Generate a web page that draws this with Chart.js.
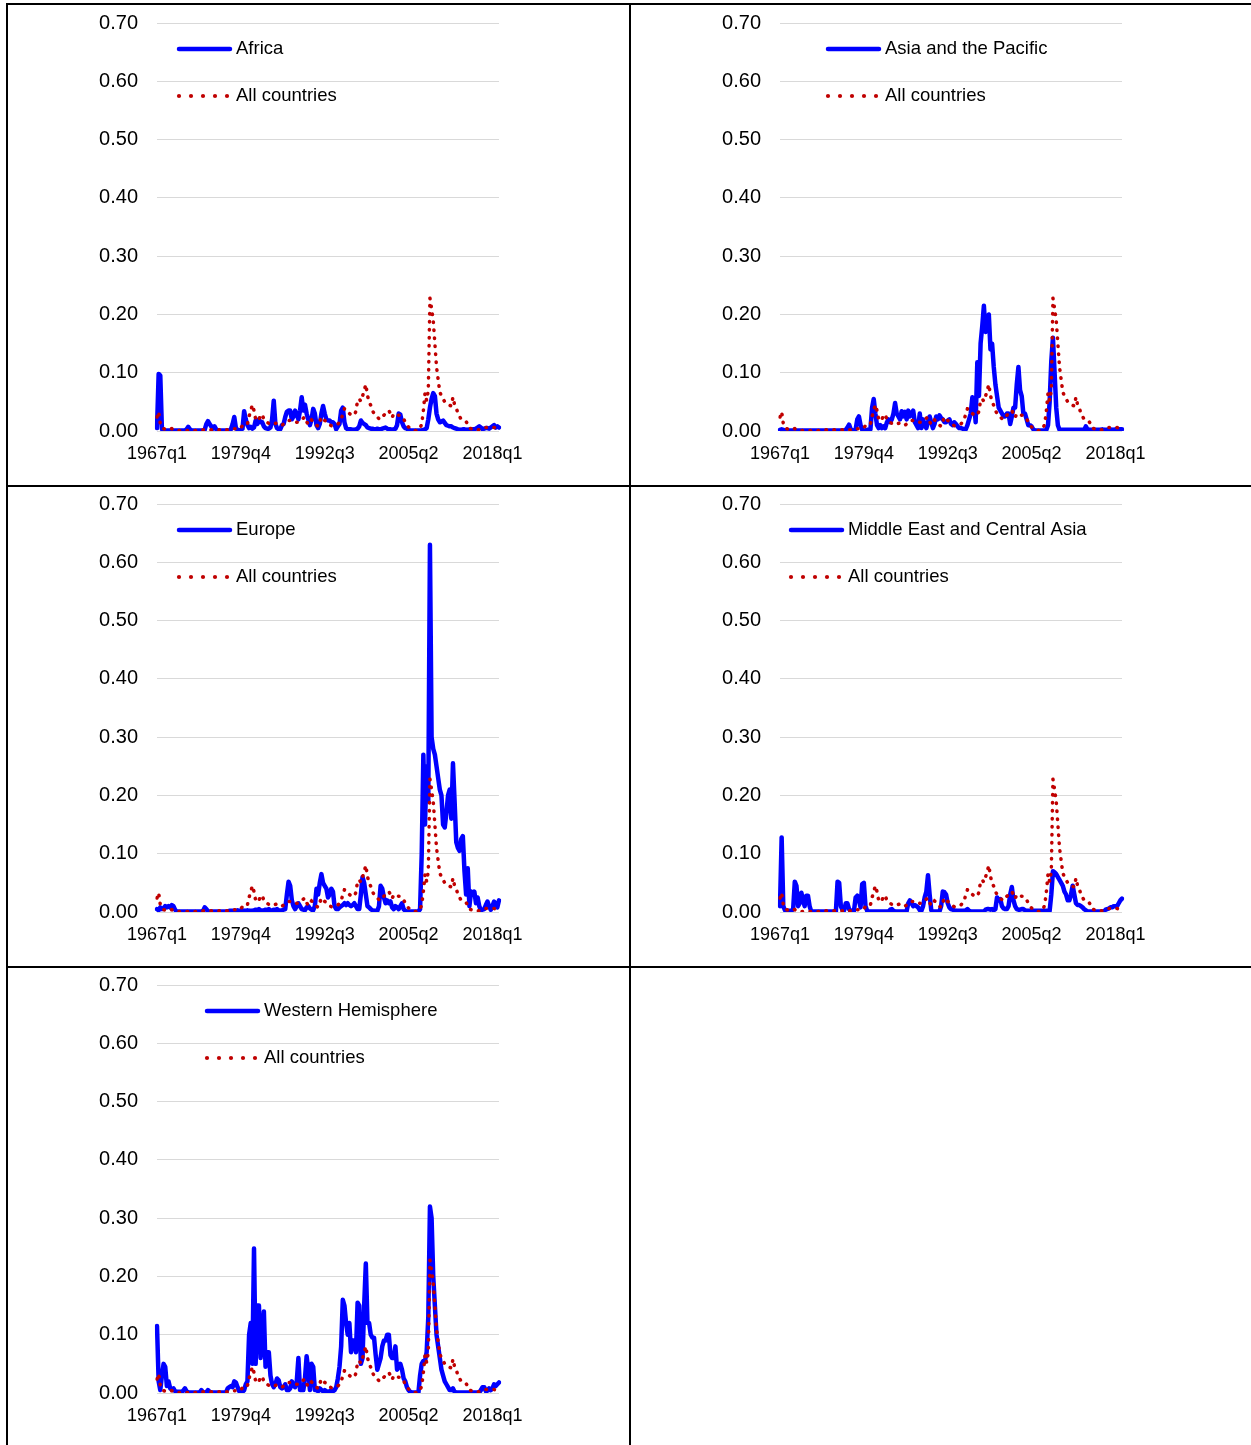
<!DOCTYPE html>
<html>
<head>
<meta charset="utf-8">
<title>Regional series against all countries, 1967q1–2019q1</title>
<script src="https://cdn.jsdelivr.net/npm/chart.js@4.4.1/dist/chart.umd.min.js"></script>
<style>
  html, body { margin: 0; padding: 0; background: #fff; }
  body { position: relative; width: 1251px; height: 1445px; overflow: hidden; }
  .rule { position: absolute; background: #000; }
  .panel { position: absolute; }
  .panel canvas { display: block; }
</style>
</head>
<body>
<!-- table rules -->
<div class="rule" style="left:6px;top:3px;width:1245px;height:2px"></div>
<div class="rule" style="left:6px;top:485px;width:1245px;height:2px"></div>
<div class="rule" style="left:6px;top:966px;width:1245px;height:2px"></div>
<div class="rule" style="left:6px;top:3px;width:2px;height:1442px"></div>
<div class="rule" style="left:629px;top:3px;width:2px;height:1442px"></div>

<div class="panel" style="left:8px;top:5px"><canvas id="c0" width="621" height="480"></canvas></div>
<div class="panel" style="left:631px;top:5px"><canvas id="c1" width="621" height="480"></canvas></div>
<div class="panel" style="left:8px;top:486px"><canvas id="c2" width="621" height="480"></canvas></div>
<div class="panel" style="left:631px;top:486px"><canvas id="c3" width="621" height="480"></canvas></div>
<div class="panel" style="left:8px;top:967px"><canvas id="c4" width="621" height="480"></canvas></div>

<script>
// Quarterly categories, 1967q1 .. 2019q1
const quarters = [];
for (let y = 1967; y <= 2019; y++) {
  for (let q = 1; q <= 4; q++) {
    if (y === 2019 && q > 1) break;
    quarters.push(y + 'q' + q);
  }
}
const tickLabels = ['1967q1', '1979q4', '1992q3', '2005q2', '2018q1'];

const comparisonName = 'All countries';
const regionNames = ['Africa', 'Asia and the Pacific', 'Europe', 'Middle East and Central Asia', 'Western Hemisphere'];

// one row = four years (16 quarters); last row ends with 2019q1
const allCountries = [
  0.024,0.033,0.013,0.006, 0.004,0.003,0.004,0.003, 0.003,0.004,0.002,0.002, 0.002,0.001,0.001,0.001,
  0.001,0.001,0.001,0.001, 0.001,0.001,0.001,0.001, 0.001,0.001,0.002,0.002, 0.002,0.002,0.002,0.002,
  0.002,0.002,0.002,0.002, 0.002,0.002,0.002,0.001, 0.001,0.001,0.002,0.002, 0.003,0.003,0.003,0.004,
  0.004,0.005,0.004,0.006, 0.009,0.008,0.009,0.012, 0.025,0.035,0.045,0.035, 0.020,0.017,0.020,0.028,
  0.028,0.020,0.016,0.015, 0.013,0.012,0.011,0.012, 0.013,0.014,0.013,0.011, 0.010,0.012,0.015,0.017,
  0.018,0.018,0.018,0.018, 0.016,0.015,0.015,0.018, 0.020,0.022,0.024,0.016, 0.011,0.015,0.019,0.017,
  0.013,0.010,0.008,0.016, 0.024,0.021,0.018,0.017, 0.014,0.011,0.009,0.009, 0.010,0.011,0.012,0.015,
  0.019,0.030,0.038,0.038, 0.034,0.030,0.028,0.027, 0.027,0.034,0.053,0.055, 0.051,0.060,0.069,0.080,
  0.061,0.050,0.044,0.035, 0.030,0.028,0.024,0.021, 0.020,0.023,0.027,0.030, 0.033,0.035,0.030,0.023,
  0.030,0.029,0.028,0.027, 0.027,0.024,0.021,0.015, 0.010,0.007,0.005,0.003, 0.002,0.001,0.000,0.002,
  0.005,0.012,0.035,0.065, 0.052,0.070,0.228,0.210, 0.190,0.150,0.110,0.088, 0.067,0.060,0.055,0.050,
  0.047,0.045,0.044,0.043, 0.058,0.045,0.040,0.030, 0.025,0.020,0.019,0.018, 0.016,0.012,0.005,0.004,
  0.003,0.002,0.002,0.002, 0.002,0.003,0.004,0.005, 0.006,0.006,0.006,0.006, 0.006,0.006,0.005,0.006,
  0.006
];

const africa = [
  0.005,0.098,0.095,0.003, 0.002,0.001,0.001,0.001, 0.001,0.001,0.001,0.001, 0.001,0.001,0.001,0.001,
  0.001,0.001,0.003,0.007, 0.003,0.001,0.001,0.001, 0.001,0.001,0.001,0.001, 0.001,0.002,0.012,0.017,
  0.012,0.008,0.004,0.008, 0.003,0.001,0.001,0.001, 0.001,0.001,0.001,0.001, 0.001,0.003,0.012,0.024,
  0.005,0.002,0.001,0.002, 0.004,0.034,0.020,0.010, 0.005,0.007,0.004,0.006, 0.018,0.012,0.020,0.015,
  0.015,0.008,0.005,0.004, 0.004,0.006,0.020,0.052, 0.012,0.005,0.003,0.003, 0.010,0.012,0.024,0.033,
  0.035,0.035,0.020,0.025, 0.035,0.028,0.020,0.035, 0.058,0.035,0.045,0.030, 0.020,0.010,0.020,0.038,
  0.030,0.010,0.005,0.012, 0.030,0.043,0.030,0.020, 0.018,0.018,0.015,0.015, 0.012,0.003,0.008,0.012,
  0.035,0.040,0.015,0.005, 0.003,0.003,0.003,0.002, 0.002,0.003,0.004,0.008, 0.018,0.014,0.012,0.010,
  0.006,0.005,0.004,0.004, 0.003,0.003,0.004,0.003, 0.003,0.004,0.005,0.006, 0.004,0.003,0.003,0.002,
  0.003,0.004,0.010,0.030, 0.028,0.015,0.008,0.005, 0.004,0.002,0.001,0.001, 0.001,0.001,0.001,0.001,
  0.001,0.001,0.002,0.003, 0.005,0.020,0.040,0.055, 0.065,0.060,0.030,0.020, 0.015,0.016,0.018,0.014,
  0.010,0.009,0.008,0.008, 0.006,0.005,0.004,0.003, 0.002,0.002,0.003,0.003, 0.002,0.002,0.003,0.002,
  0.003,0.003,0.004,0.006, 0.008,0.006,0.003,0.004, 0.005,0.005,0.004,0.006, 0.008,0.010,0.006,0.008,
  0.006
];

const asiaPacific = [
  0.002,0.003,0.002,0.001, 0.001,0.001,0.001,0.001, 0.001,0.001,0.001,0.001, 0.001,0.001,0.001,0.001,
  0.001,0.001,0.001,0.001, 0.001,0.001,0.001,0.001, 0.001,0.001,0.001,0.001, 0.001,0.001,0.001,0.001,
  0.001,0.001,0.001,0.001, 0.001,0.001,0.001,0.001, 0.002,0.006,0.011,0.003, 0.001,0.001,0.003,0.020,
  0.025,0.010,0.002,0.001, 0.001,0.002,0.002,0.003, 0.040,0.055,0.030,0.010, 0.005,0.010,0.005,0.008,
  0.005,0.015,0.020,0.015, 0.020,0.030,0.048,0.030, 0.025,0.020,0.034,0.025, 0.033,0.020,0.035,0.025,
  0.030,0.035,0.015,0.010, 0.005,0.030,0.005,0.020, 0.010,0.005,0.015,0.025, 0.015,0.005,0.012,0.025,
  0.020,0.027,0.022,0.020, 0.015,0.015,0.018,0.020, 0.012,0.010,0.015,0.012, 0.008,0.005,0.005,0.004,
  0.003,0.003,0.010,0.020, 0.030,0.058,0.050,0.015, 0.118,0.060,0.150,0.180, 0.215,0.170,0.190,0.200,
  0.140,0.150,0.110,0.080, 0.060,0.040,0.035,0.030, 0.025,0.025,0.030,0.030, 0.012,0.025,0.040,0.040,
  0.080,0.110,0.070,0.060, 0.030,0.030,0.020,0.010, 0.010,0.008,0.003,0.001, 0.001,0.001,0.001,0.001,
  0.001,0.001,0.002,0.010, 0.050,0.120,0.160,0.100, 0.040,0.010,0.002,0.002, 0.002,0.002,0.002,0.002,
  0.002,0.002,0.002,0.002, 0.002,0.002,0.002,0.002, 0.002,0.002,0.008,0.003, 0.002,0.002,0.002,0.002,
  0.002,0.002,0.002,0.002, 0.003,0.002,0.002,0.002, 0.003,0.003,0.002,0.002, 0.003,0.003,0.003,0.003,
  0.003
];

const europe = [
  0.005,0.003,0.008,0.005, 0.006,0.010,0.008,0.010, 0.008,0.012,0.010,0.004, 0.001,0.001,0.001,0.001,
  0.001,0.001,0.001,0.001, 0.001,0.001,0.001,0.001, 0.001,0.001,0.001,0.001, 0.002,0.008,0.005,0.001,
  0.001,0.001,0.001,0.001, 0.001,0.001,0.001,0.001, 0.001,0.001,0.001,0.001, 0.002,0.002,0.002,0.002,
  0.002,0.003,0.002,0.002, 0.003,0.002,0.002,0.003, 0.002,0.002,0.002,0.003, 0.004,0.003,0.005,0.003,
  0.002,0.003,0.004,0.003, 0.005,0.003,0.002,0.004, 0.003,0.005,0.003,0.002, 0.003,0.004,0.005,0.030,
  0.052,0.045,0.020,0.010, 0.005,0.010,0.015,0.010, 0.005,0.004,0.003,0.008, 0.010,0.006,0.004,0.003,
  0.010,0.040,0.030,0.050, 0.065,0.050,0.045,0.040, 0.025,0.030,0.040,0.035, 0.010,0.005,0.005,0.008,
  0.010,0.012,0.015,0.012, 0.015,0.012,0.010,0.012, 0.015,0.010,0.005,0.005, 0.030,0.060,0.050,0.030,
  0.010,0.008,0.005,0.003, 0.002,0.002,0.002,0.010, 0.045,0.040,0.025,0.015, 0.020,0.015,0.018,0.008,
  0.005,0.010,0.008,0.005, 0.010,0.015,0.005,0.002, 0.001,0.001,0.001,0.001, 0.001,0.001,0.001,0.001,
  0.005,0.100,0.270,0.150, 0.250,0.190,0.630,0.300, 0.280,0.270,0.250,0.230, 0.210,0.200,0.150,0.145,
  0.170,0.200,0.210,0.160, 0.255,0.190,0.120,0.110, 0.105,0.125,0.130,0.070, 0.030,0.075,0.010,0.035,
  0.030,0.035,0.015,0.025, 0.010,0.003,0.004,0.005, 0.012,0.018,0.010,0.004, 0.010,0.018,0.012,0.008,
  0.020
];

const middleEastCentralAsia = [
  0.010,0.128,0.010,0.003, 0.002,0.002,0.002,0.002, 0.005,0.052,0.045,0.010, 0.015,0.033,0.020,0.010,
  0.028,0.028,0.010,0.001, 0.001,0.001,0.001,0.001, 0.001,0.001,0.001,0.001, 0.001,0.001,0.001,0.001,
  0.001,0.001,0.001,0.052, 0.050,0.010,0.004,0.003, 0.015,0.015,0.005,0.002, 0.002,0.002,0.025,0.028,
  0.020,0.008,0.048,0.050, 0.010,0.002,0.001,0.001, 0.001,0.001,0.001,0.001, 0.001,0.001,0.001,0.001,
  0.001,0.001,0.001,0.004, 0.005,0.002,0.001,0.001, 0.001,0.001,0.001,0.001, 0.001,0.001,0.015,0.020,
  0.015,0.010,0.012,0.010, 0.008,0.003,0.002,0.010, 0.025,0.035,0.063,0.030, 0.003,0.001,0.001,0.001,
  0.001,0.001,0.010,0.035, 0.034,0.030,0.015,0.008, 0.005,0.004,0.003,0.002, 0.002,0.002,0.002,0.002,
  0.002,0.003,0.005,0.002, 0.001,0.001,0.001,0.001, 0.001,0.001,0.001,0.001, 0.001,0.004,0.005,0.005,
  0.004,0.005,0.003,0.005, 0.025,0.020,0.022,0.010, 0.006,0.005,0.005,0.010, 0.030,0.043,0.020,0.010,
  0.005,0.004,0.004,0.005, 0.005,0.003,0.002,0.002, 0.002,0.002,0.002,0.002, 0.002,0.002,0.002,0.002,
  0.002,0.002,0.002,0.002, 0.002,0.030,0.070,0.068, 0.065,0.060,0.055,0.050, 0.045,0.035,0.030,0.020,
  0.020,0.030,0.045,0.030, 0.015,0.012,0.012,0.010, 0.008,0.005,0.003,0.001, 0.001,0.001,0.001,0.001,
  0.001,0.001,0.001,0.001, 0.001,0.001,0.004,0.005, 0.006,0.008,0.008,0.010, 0.010,0.010,0.015,0.020,
  0.023
];

const westernHemisphere = [
  0.115,0.020,0.005,0.030, 0.050,0.045,0.012,0.020, 0.008,0.006,0.008,0.003, 0.002,0.002,0.002,0.002,
  0.004,0.008,0.003,0.001, 0.001,0.001,0.001,0.001, 0.001,0.001,0.001,0.005, 0.001,0.001,0.001,0.005,
  0.002,0.001,0.001,0.001, 0.001,0.001,0.001,0.001, 0.001,0.001,0.001,0.008, 0.010,0.012,0.010,0.020,
  0.018,0.010,0.003,0.002, 0.002,0.005,0.015,0.020, 0.100,0.120,0.050,0.248, 0.050,0.150,0.150,0.060,
  0.100,0.140,0.045,0.070, 0.070,0.030,0.015,0.010, 0.015,0.025,0.022,0.010, 0.008,0.010,0.015,0.005,
  0.005,0.008,0.020,0.012, 0.010,0.020,0.060,0.005, 0.005,0.005,0.025,0.063, 0.040,0.005,0.050,0.045,
  0.005,0.005,0.003,0.008, 0.005,0.003,0.005,0.003, 0.002,0.003,0.005,0.003, 0.005,0.010,0.025,0.045,
  0.080,0.160,0.150,0.120, 0.100,0.120,0.070,0.090, 0.090,0.070,0.155,0.150, 0.050,0.060,0.150,0.222,
  0.120,0.120,0.100,0.095, 0.095,0.065,0.040,0.050, 0.060,0.080,0.090,0.090, 0.100,0.100,0.065,0.060,
  0.060,0.080,0.040,0.045, 0.050,0.040,0.025,0.020, 0.010,0.005,0.002,0.001, 0.001,0.001,0.001,0.001,
  0.030,0.050,0.055,0.055, 0.070,0.130,0.320,0.300, 0.200,0.150,0.100,0.080, 0.060,0.040,0.030,0.020,
  0.015,0.010,0.005,0.005, 0.008,0.002,0.001,0.001, 0.001,0.001,0.001,0.001, 0.001,0.001,0.001,0.001,
  0.001,0.001,0.001,0.001, 0.001,0.005,0.010,0.010, 0.003,0.004,0.008,0.005, 0.008,0.015,0.012,0.015,
  0.018
];

const FONT = '"Liberation Sans", Arial, Helvetica, sans-serif';
Chart.defaults.font.family = FONT;
Chart.defaults.font.size = 18;
Chart.defaults.color = '#000';

const REGION_COLOR = '#0000FF';
const ALL_COLOR = '#C00000';

// Legend drawn inside the plot, top-left: solid swatch for the region, dotted for the comparison.
const cornerLegend = {
  id: 'cornerLegend',
  afterDraw(chart, args, opts) {
    const ctx = chart.ctx;
    const x = opts.x;
    const ySolid = 44, yDots = 91;
    ctx.save();
    ctx.lineCap = 'round';
    ctx.strokeStyle = REGION_COLOR;
    ctx.lineWidth = 4.5;
    ctx.beginPath();
    ctx.moveTo(x + 2, ySolid);
    ctx.lineTo(x + 53, ySolid);
    ctx.stroke();
    ctx.fillStyle = ALL_COLOR;
    for (let j = 0; j < 5; j++) {
      ctx.beginPath();
      ctx.arc(x + 2 + j * 12, yDots, 2.1, 0, Math.PI * 2);
      ctx.fill();
    }
    ctx.fillStyle = '#000';
    ctx.font = '18.5px ' + FONT;
    ctx.textBaseline = 'middle';
    ctx.textAlign = 'left';
    ctx.fillText(chart.data.datasets[1].label, x + 59, ySolid);
    ctx.fillText(chart.data.datasets[0].label, x + 59, yDots);
    ctx.restore();
  }
};

const panels = [
  { id: 'c0', name: regionNames[0], values: africa, legendX: 169 },
  { id: 'c1', name: regionNames[1], values: asiaPacific, legendX: 195 },
  { id: 'c2', name: regionNames[2], values: europe, legendX: 169 },
  { id: 'c3', name: regionNames[3], values: middleEastCentralAsia, legendX: 158 },
  { id: 'c4', name: regionNames[4], values: westernHemisphere, legendX: 197 }
];

function makeChart(p) {
  return new Chart(document.getElementById(p.id), {
    type: 'line',
    data: {
      labels: quarters,
      datasets: [
        {
          label: comparisonName,
          data: allCountries,
          borderColor: ALL_COLOR,
          borderWidth: 3.5,
          borderDash: [0.5, 7.5],
          borderCapStyle: 'round',
          pointRadius: 0,
          tension: 0,
          fill: false,
          order: 0
        },
        {
          label: p.name,
          data: p.values,
          borderColor: REGION_COLOR,
          borderWidth: 4.5,
          borderCapStyle: 'round',
          borderJoinStyle: 'round',
          pointRadius: 0,
          tension: 0,
          fill: false,
          order: 1
        }
      ]
    },
    options: {
      responsive: false,
      animation: false,
      events: [],
      layout: { padding: { top: 18, right: 130, left: 0, bottom: 0 } },
      plugins: {
        legend: { display: false },
        tooltip: { enabled: false },
        cornerLegend: { x: p.legendX }
      },
      scales: {
        x: {
          type: 'category',
          offset: false,
          grid: { display: false, drawTicks: false },
          border: { display: false },
          ticks: {
            autoSkip: false,
            maxRotation: 0,
            minRotation: 0,
            padding: 12,
            color: '#000',
            callback: (v, i) => (tickLabels.includes(quarters[i]) ? quarters[i] : '')
          },
          afterFit: (s) => { s.height = 54; }
        },
        y: {
          min: 0,
          max: 0.7,
          grid: { color: '#d9d9d9', lineWidth: 1, drawTicks: false },
          border: { display: false },
          ticks: {
            stepSize: 0.1,
            padding: 19,
            color: '#000',
            font: { size: 20 },
            callback: (v) => v.toFixed(2)
          },
          afterFit: (s) => {
            s.width = 149;
            // the plot top is set by layout padding alone
            s.paddingTop = 0;
            s.paddingBottom = 0;
          }
        }
      }
    },
    plugins: [cornerLegend]
  });
}

panels.forEach(makeChart);
</script>
</body>
</html>
